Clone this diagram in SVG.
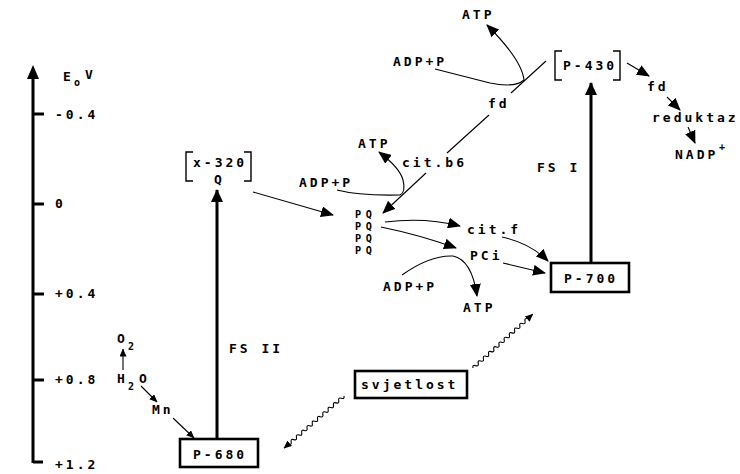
<svg xmlns="http://www.w3.org/2000/svg" width="740" height="474" viewBox="0 0 740 474">
<style>
text{font-family:"DejaVu Sans Mono","Liberation Mono",monospace;font-weight:bold;font-size:13px;letter-spacing:3px;fill:#000}
.sub{font-size:10px;letter-spacing:1px}
.pq{font-size:10.2px;letter-spacing:4.6px}
.thin{fill:none;stroke:#000;stroke-width:1.1}
.thick{fill:none;stroke:#000;stroke-width:3}
.box{fill:#fff;stroke:#000;stroke-width:2.6}
.br{fill:none;stroke:#000;stroke-width:1.4}
</style>
<defs>
<marker id="ah" markerUnits="userSpaceOnUse" markerWidth="13" markerHeight="11" refX="12" refY="5.5" orient="auto"><path d="M0,0 L13,5.5 L0,11 Z" fill="#000"/></marker>
<marker id="ahs" markerUnits="userSpaceOnUse" markerWidth="8" markerHeight="8" refX="7.5" refY="3.5" orient="auto"><path d="M0,0 L8,3.5 L0,7 Z" fill="#000"/></marker>
<marker id="ahb" markerUnits="userSpaceOnUse" markerWidth="13" markerHeight="13" refX="12" refY="6" orient="auto"><path d="M0,0 L13,6 L0,12 Z" fill="#000"/></marker>
</defs>

<g id="axis">
<path class="thick" d="M33,463 L33,76 M33,462 L43,462 M33,114 L44,114 M33,204 L44,204 M33,294 L44,294 M33,380 L44,380"/>
<path d="M33,65 L27,79 L39,79 Z" fill="#000"/>
<text x="63" y="81">E</text><text class="sub" x="74" y="86">o</text><text x="85" y="79">V</text>
<text x="55" y="119">-0.4</text>
<text x="55" y="208">0</text>
<text x="55" y="298">+0.4</text>
<text x="55" y="384">+0.8</text>
<text x="55" y="469">+1.2</text>
</g>

<g id="connectors">
<path class="thick" d="M217,438 L217,190" marker-end="url(#ahb)"/>
<path class="thick" d="M591,263 L591,83" marker-end="url(#ahb)"/>
<path class="thin" d="M253,192 L333,215" marker-end="url(#ah)"/>
<path class="thin" d="M546,61 L511,93 M489,115 L447,153"/>
<path class="thin" d="M426,173 L383,213" marker-end="url(#ah)"/>
<path class="thin" d="M435,69 L490,83 Q515,88 524,80 Q522,60 487,25" marker-end="url(#ah)"/>
<path class="thin" d="M337,190 Q360,196 400,195 Q406,192 403,180 Q400,168 379,152" marker-end="url(#ah)"/>
<path class="thin" d="M385,222 Q425,217 460,226" marker-end="url(#ah)"/>
<path class="thin" d="M381,227 Q420,235 456,248" marker-end="url(#ah)"/>
<path class="thin" d="M502,237 Q530,243 548,261" marker-end="url(#ah)"/>
<path class="thin" d="M503,263 L545,273" marker-end="url(#ah)"/>
<path class="thin" d="M402,275 Q430,255 453,256 Q472,260 477,296" marker-end="url(#ah)"/>
<path class="thin" d="M627,63 L649,76" marker-end="url(#ah)"/>
<path class="thin" d="M667,97 L680,110" marker-end="url(#ah)"/>
<path class="thin" d="M688,127 L695,143" marker-end="url(#ah)"/>
<path class="thin" d="M123,370 L123,349" marker-end="url(#ahs)"/>
<path class="thin" d="M141,386 L157,402" marker-end="url(#ahs)"/>
<path class="thin" d="M173,418 L194,438" marker-end="url(#ahs)"/>
<path class="thin" transform="translate(473,368) rotate(-42)" d="M0,0 q1.75,-3 3.5,0 t3.5,0 t3.5,0 t3.5,0 t3.5,0 t3.5,0 t3.5,0 t3.5,0 t3.5,0 t3.5,0 t3.5,0 t3.5,0 t3.5,0 t3.5,0 t3.5,0 t3.5,0 t3.5,0 t3.5,0 t3.5,0 t3.5,0 t3.5,0 l7,0" marker-end="url(#ahs)"/>
<path class="thin" transform="translate(344,396) rotate(139)" d="M0,0 q1.75,-3 3.5,0 t3.5,0 t3.5,0 t3.5,0 t3.5,0 t3.5,0 t3.5,0 t3.5,0 t3.5,0 t3.5,0 t3.5,0 t3.5,0 t3.5,0 t3.5,0 t3.5,0 t3.5,0 t3.5,0 t3.5,0 t3.5,0 t3.5,0 t3.5,0 l6,0" marker-end="url(#ahs)"/>
</g>

<g id="x320">
<path class="br" d="M193,152 L186,152 L186,181 L193,181 M244,152 L251,152 L251,181 L244,181"/>
<text x="193" y="167">x-320</text>
<text x="214" y="184">Q</text>
</g>
<g id="p430">
<path class="br" d="M562,51 L555,51 L555,80 L562,80 M613,51 L620,51 L620,80 L613,80"/>
<text x="563" y="70">P-430</text>
</g>
<g id="p680">
<rect class="box" x="180" y="439" width="78" height="28"/>
<text x="193" y="459">P-680</text>
</g>
<g id="p700">
<rect class="box" x="551" y="263" width="78" height="29"/>
<text x="564" y="283">P-700</text>
</g>
<g id="svjetlost">
<rect class="box" x="355" y="371" width="112" height="27"/>
<text x="361" y="389">svjetlost</text>
</g>
<g id="atp1"><text x="462" y="19">ATP</text></g>
<g id="adp1"><text x="393" y="66">ADP+P</text></g>
<g id="fd1"><text x="488" y="108">fd</text></g>
<g id="fd2"><text x="647" y="91">fd</text></g>
<g id="reduktaz"><text x="652" y="122">reduktaz</text></g>
<g id="nadp"><text x="675" y="159">NADP</text><text class="sub" x="719" y="150">+</text></g>
<g id="atp2"><text x="358" y="148">ATP</text></g>
<g id="citb6"><text x="402" y="167">cit.b6</text></g>
<g id="adp2"><text x="299" y="187">ADP+P</text></g>
<g id="fs1"><text x="537" y="172">FS I</text></g>
<g id="pq">
<text class="pq" x="355" y="218">PQ</text>
<text class="pq" x="355" y="230">PQ</text>
<text class="pq" x="355" y="242">PQ</text>
<text class="pq" x="355" y="254">PQ</text>
</g>
<g id="citf"><text x="467" y="234">cit.f</text></g>
<g id="pci"><text x="470" y="260">PCi</text></g>
<g id="adp3"><text x="383" y="291">ADP+P</text></g>
<g id="atp3"><text x="463" y="312">ATP</text></g>
<g id="fs2"><text x="229" y="353">FS II</text></g>
<g id="o2"><text x="117" y="343">O</text><text class="sub" x="128" y="350">2</text></g>
<g id="h2o"><text x="117" y="383">H</text><text class="sub" x="128" y="390">2</text><text x="139" y="383">O</text></g>
<g id="mn"><text x="152" y="414">Mn</text></g>
</svg>
